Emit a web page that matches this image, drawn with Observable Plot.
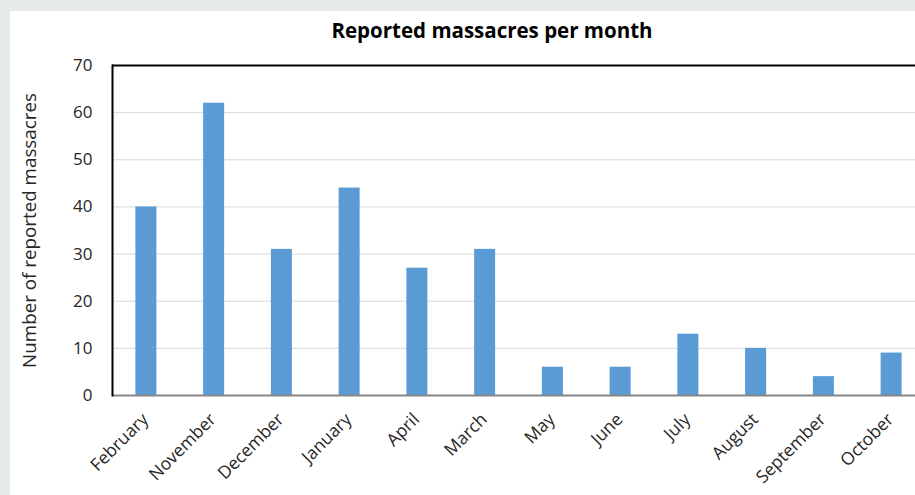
<!DOCTYPE html>
<html>
<head>
<meta charset="utf-8">
<script src="https://cdn.jsdelivr.net/npm/d3@7"></script>
<script src="https://cdn.jsdelivr.net/npm/@observablehq/plot@0.6"></script>
<style>
  html, body { margin: 0; padding: 0; background: #e6eae9; }
  #wrap { position: relative; width: 915px; height: 495px; overflow: hidden; background: #e6eae9; font-family: "Open Sans", sans-serif; }
  #panel { position: absolute; left: 10px; top: 11px; right: 0; bottom: 0; background: #ffffff; }
  #title { position: absolute; left: 112px; width: 760px; top: 16px; text-align: center; font-weight: bold; font-size: 20.5px; line-height: 28px; color: #000; }
  #chart { position: absolute; left: 0; top: 0; width: 925px; }
  #chart svg { max-width: none !important; }
</style>
</head>
<body>
<div id="wrap">
  <div id="panel"></div>
  <div id="title">Reported massacres per month</div>
  <div id="chart"></div>
</div>
<script>
const months = ["February", "November", "December", "January", "April", "March", "May", "June", "July", "August", "September", "October"];
const massacres = [40, 62, 31, 44, 27, 31, 6, 6, 13, 10, 4, 9];
const yTicks = [0, 10, 20, 30, 40, 50, 60, 70];
const yLabel = "Number of reported massacres";

const data = months.map((m, i) => ({month: m, value: massacres[i]}));

const chart = Plot.plot({
  width: 925,
  height: 495,
  marginLeft: 112,
  marginRight: 0,
  marginTop: 65,
  marginBottom: 100,
  style: {background: "transparent", fontFamily: "'Open Sans', sans-serif", color: "#262626", overflow: "visible", maxWidth: "none"},
  x: {domain: months, paddingInner: 0.69, paddingOuter: 0.345, align: 0.5, round: false},
  y: {domain: [0, 70]},
  marks: [
    Plot.gridY(yTicks, {stroke: "#d9d9d9", strokeOpacity: 1, strokeWidth: 1}),
    Plot.barY(data, {x: "month", y: "value", fill: "#5b9bd5"}),
    Plot.ruleY([0], {stroke: "#868686", strokeWidth: 2}),
    Plot.ruleY([70], {stroke: "#000", strokeWidth: 2}),
    Plot.frame({anchor: "left", stroke: "#000", strokeWidth: 2}),
    Plot.axisY(yTicks, {tickSize: 0, tickPadding: 20, fontSize: 17, label: null}),
    Plot.axisY({label: yLabel, labelAnchor: "center", labelOffset: 90, labelArrow: "none", fontSize: 18.8, ticks: [], tickSize: 0}),
    Plot.axisX({tickSize: 0, tickPadding: 21, dx: -1, tickRotate: -45, fontSize: 17.5, label: null})
  ]
});
document.getElementById("chart").appendChild(chart);
</script>
</body>
</html>
